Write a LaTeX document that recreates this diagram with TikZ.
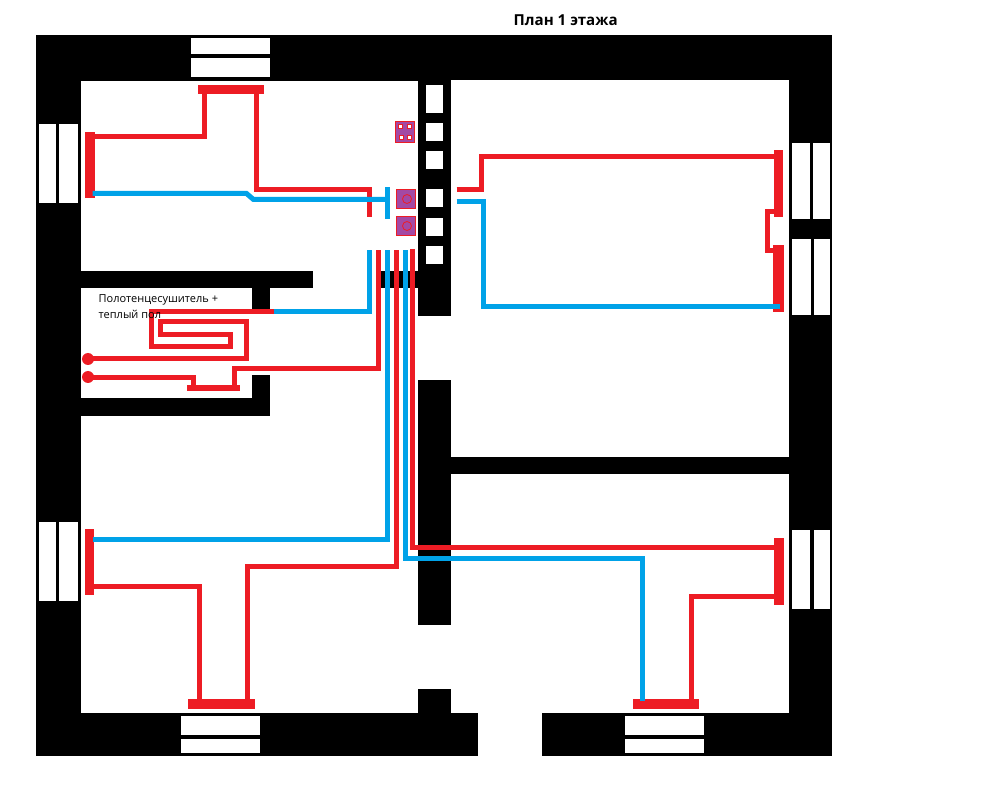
\documentclass[tikz,border=0pt]{standalone}
\usepackage{fontspec}
\setmainfont{Open Sans}
\definecolor{hotred}{RGB}{237,28,36}
\definecolor{coldblue}{RGB}{0,162,232}
\definecolor{boxpurple}{RGB}{163,73,164}

\begin{document}
\begin{tikzpicture}
  [x=1pt,y=-1pt,
   wall/.style={fill=black,draw=none},
   glass/.style={fill=white,draw=none},
   hot/.style={draw=hotred,line width=5pt,xshift=.5pt,yshift=-.5pt},
   cold/.style={draw=coldblue,line width=5pt,xshift=.5pt,yshift=-.5pt},
   heater/.style={fill=hotred,draw=none},
   vent/.style={fill=boxpurple,draw=hotred,line width=1.2pt},
   every node/.style={inner sep=0pt,anchor=west}]
  \useasboundingbox (0,0) rectangle (983,794);

  \fill[wall] (36,35) rectangle (832,756);
  \fill[glass] (81,81) rectangle (418,713);
  \fill[glass] (451,80) rectangle (789,713);
  \fill[glass] (418,316) rectangle (451,380);
  \fill[glass] (418,625) rectangle (451,689);
  \fill[glass] (478,713) rectangle (542,756);

  \foreach \xa/\ya/\xb/\yb in {81/271/313/288, 252/288/270/310, 252/375/270/398, 81/398/270/416,
      380/271/418/288, 418/81/451/316, 418/380/451/625, 418/689/451/713, 451/457/789/474}
    \fill[wall] (\xa,\ya) rectangle (\xb,\yb);

  \foreach \xa/\ya/\xb/\yb in {191/38/270/54, 191/58/270/77, 181/716/260/735, 181/739/260/753,
      625/716/704/735, 625/739/704/753, 39/124/56/203, 59/124/78/203, 39/522/56/601, 59/522/78/601,
      792/143/810/219, 813/143/830/219, 792/239/811/315, 814/239/830/315, 792/530/810/609, 814/530/830/609,
      426/85/443/113, 426/123/443/141, 426/151/443/169, 426/189/443/207, 426/218/443/236, 426/246/443/264}
    \fill[glass] (\xa,\ya) rectangle (\xb,\yb);

  \draw[vent] (395.5,121.5) rectangle (414.5,142.5);
  \foreach \xa/\ya in {400/126, 409/126, 401/137, 409/137}
    \draw[fill=white,draw=hotred,line width=.7pt] (\xa-2,\ya-2) rectangle (\xa+2,\ya+2);
  \draw[vent] (396.5,189.5) rectangle (415.5,208.5);
  \draw[vent] (396.5,216.5) rectangle (415.5,235.5);
  \draw[draw=hotred,line width=.8pt] (407,199) circle (4.5);
  \draw[draw=hotred,line width=.8pt] (407,226) circle (4.5);

  \foreach \xa/\ya/\xb/\yb in {198/85/264/94, 85/132/95/198, 85/529/94/595, 188/699/255/709,
      633/699/699/709, 774/538/784/605, 774/150/783/217, 773/245/784/312, 187/385/240/391}
    \fill[heater] (\xa,\ya) rectangle (\xb,\yb);
  \fill[hotred] (88,359) circle (6);
  \fill[hotred] (88,377) circle (6);

  \draw[hot] (92,136) -- (204,136) -- (204,90);
  \draw[hot] (256,90) -- (256,189) -- (369,189) -- (369,217);
  \draw[cold] (92,193) -- (246,193) -- (253,199) -- (387,199);
  \draw[cold] (387,187) -- (387,219);

  \draw[hot] (456,189) -- (481,189) -- (481,156) -- (779,156);
  \draw[cold] (456,201) -- (483,201) -- (483,306) -- (779,306);
  \draw[hot] (778,211) -- (767,211) -- (767,250) -- (778,250);

  \draw[hot] (273,311) -- (151,311) -- (151,346) -- (230,346) -- (230,334) -- (160,334)
    -- (160,321) -- (246,321) -- (246,358) -- (88,358);
  \draw[hot] (88,377) -- (193,377) -- (193,388);
  \draw[hot] (234,388) -- (234,368) -- (378,368) -- (378,250);
  \draw[cold] (273,311) -- (369,311) -- (369,250);

  \draw[cold] (387,250) -- (387,539) -- (92,539);
  \draw[hot] (396,250) -- (396,566) -- (247,566) -- (247,700);
  \draw[hot] (92,586) -- (199,586) -- (199,700);
  \draw[cold] (405,250) -- (405,558) -- (642,558) -- (642,700);
  \draw[hot] (412,249) -- (412,547) -- (779,547);
  \draw[hot] (779,596) -- (691,596) -- (691,700);

  \node[font=\bfseries\fontsize{15.1}{16}\selectfont] (title) at (513.5,20.5) {План 1 этажа};
  \node[font=\fontsize{11}{13}\selectfont] (label1) at (98.5,300) {Полотенцесушитель +};
  \node[font=\fontsize{11}{13}\selectfont] (label2) at (98.5,314) {теплый пол};
\end{tikzpicture}
\end{document}
